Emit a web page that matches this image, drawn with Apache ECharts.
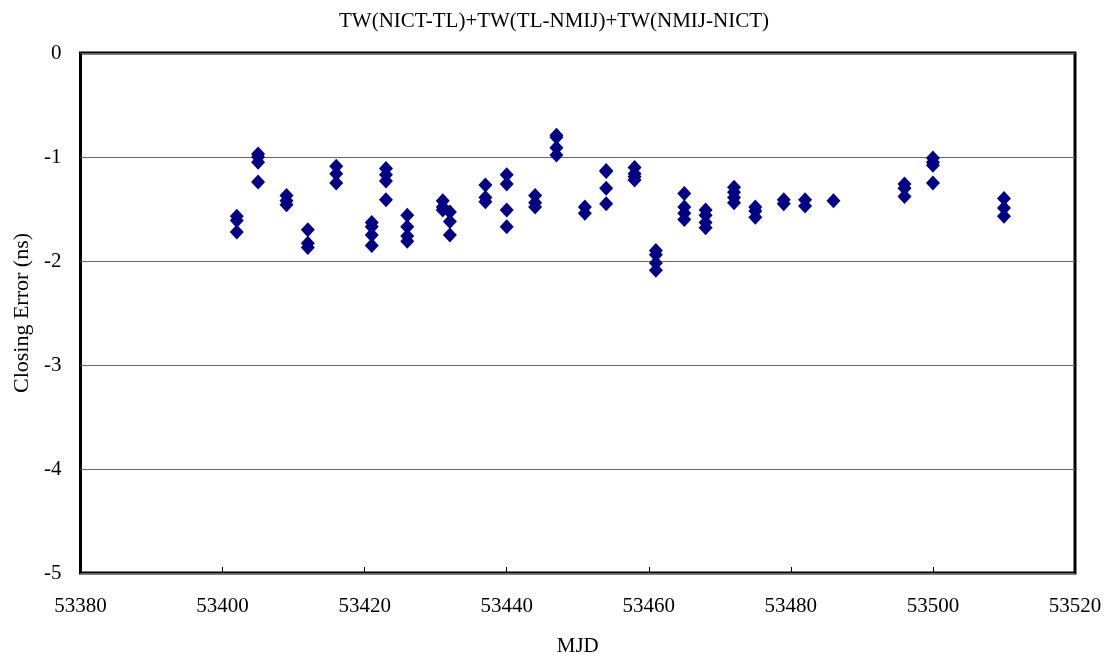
<!DOCTYPE html>
<html>
<head>
<meta charset="utf-8">
<script src="https://cdn.jsdelivr.net/npm/echarts@6/dist/echarts.min.js"></script>
<style>
  html, body { margin: 0; padding: 0; background: #fff; }
  #chart { width: 1108px; height: 659px; }
</style>
</head>
<body>
<div id="chart"></div>
<script>
// Closing error of the NICT / TL / NMIJ two-way triangle, per session (MJD, ns)
const mjd = [
  53402, 53402, 53402,
  53405, 53405, 53405, 53405,
  53409, 53409, 53409,
  53412, 53412, 53412,
  53416, 53416, 53416,
  53421, 53421, 53421, 53421,
  53423, 53423, 53423, 53423,
  53426, 53426, 53426, 53426,
  53431, 53431, 53431,
  53432, 53432, 53432,
  53437, 53437, 53437,
  53440, 53440, 53440, 53440,
  53444, 53444, 53444,
  53447, 53447, 53447, 53447,
  53451, 53451,
  53454, 53454, 53454, 53454,
  53458, 53458, 53458, 53458,
  53461, 53461, 53461, 53461,
  53465, 53465, 53465, 53465,
  53468, 53468, 53468, 53468,
  53472, 53472, 53472, 53472,
  53475, 53475, 53475,
  53479, 53479,
  53482, 53482,
  53486,
  53496, 53496, 53496,
  53500, 53500, 53500, 53500,
  53510, 53510, 53510
];
const closingError = [
  -1.57, -1.61, -1.72,
  -0.97, -1.00, -1.05, -1.24,
  -1.37, -1.42, -1.46,
  -1.70, -1.83, -1.87,
  -1.09, -1.16, -1.25,
  -1.63, -1.67, -1.75, -1.85,
  -1.11, -1.17, -1.23, -1.41,
  -1.56, -1.67, -1.76, -1.81,
  -1.42, -1.48, -1.51,
  -1.53, -1.62, -1.75,
  -1.27, -1.39, -1.43,
  -1.17, -1.26, -1.51, -1.67,
  -1.37, -1.44, -1.48,
  -0.79, -0.81, -0.91, -0.98,
  -1.48, -1.54,
  -1.13, -1.14, -1.30, -1.45,
  -1.10, -1.16, -1.19, -1.22,
  -1.90, -1.94, -2.02, -2.09,
  -1.35, -1.48, -1.54, -1.60,
  -1.51, -1.56, -1.63, -1.68,
  -1.29, -1.34, -1.39, -1.44,
  -1.48, -1.52, -1.58,
  -1.41, -1.45,
  -1.41, -1.47,
  -1.42,
  -1.26, -1.30, -1.38,
  -1.01, -1.05, -1.08, -1.25,
  -1.40, -1.49, -1.57
];
const chartTitle = 'TW(NICT-TL)+TW(TL-NMIJ)+TW(NMIJ-NICT)';
const xName = 'MJD';
const yName = 'Closing Error (ns)';

const points = mjd.map((m, i) => [m, closingError[i]]);
const serif = '"Liberation Serif", "DejaVu Serif", serif';

const chart = echarts.init(document.getElementById('chart'), null, { renderer: 'canvas' });
chart.setOption({
  animation: false,
  backgroundColor: '#ffffff',
  title: {
    text: chartTitle,
    left: 'center',
    top: 6,
    textStyle: { fontFamily: serif, fontWeight: 'normal', fontSize: 21, color: '#000' }
  },
  grid: {
    left: 80.5, right: 33, top: 53, bottom: 86,
    outerBoundsMode: 'none',
    containLabel: false,
    show: true,
    borderWidth: 3,
    borderColor: '#000',
    backgroundColor: '#fff'
  },
  xAxis: {
    type: 'value',
    min: 53380, max: 53520, interval: 20,
    name: xName,
    nameLocation: 'middle',
    nameGap: 63,
    nameTextStyle: { fontFamily: serif, fontSize: 21, color: '#000' },
    axisLine: { show: false, onZero: false },
    axisTick: { show: true, inside: true, length: 6, lineStyle: { color: '#000', width: 1 } },
    axisLabel: {
      fontFamily: serif, fontSize: 21, color: '#000', margin: 23,
      formatter: v => String(v)
    },
    splitLine: { show: false }
  },
  yAxis: {
    type: 'value',
    min: -5, max: 0, interval: 1,
    name: yName,
    nameLocation: 'middle',
    nameGap: 47,
    nameTextStyle: { fontFamily: serif, fontSize: 22, color: '#000' },
    axisLine: { show: false, onZero: false },
    axisTick: { show: false },
    axisLabel: { fontFamily: serif, fontSize: 21, color: '#000', margin: 19 },
    splitLine: { show: true, lineStyle: { color: '#666', width: 1 } }
  },
  series: [{
    type: 'scatter',
    data: points,
    symbol: 'diamond',
    symbolSize: [14, 15],
    itemStyle: { color: '#000080', opacity: 1 },
    z: 5
  }]
});
</script>
</body>
</html>
